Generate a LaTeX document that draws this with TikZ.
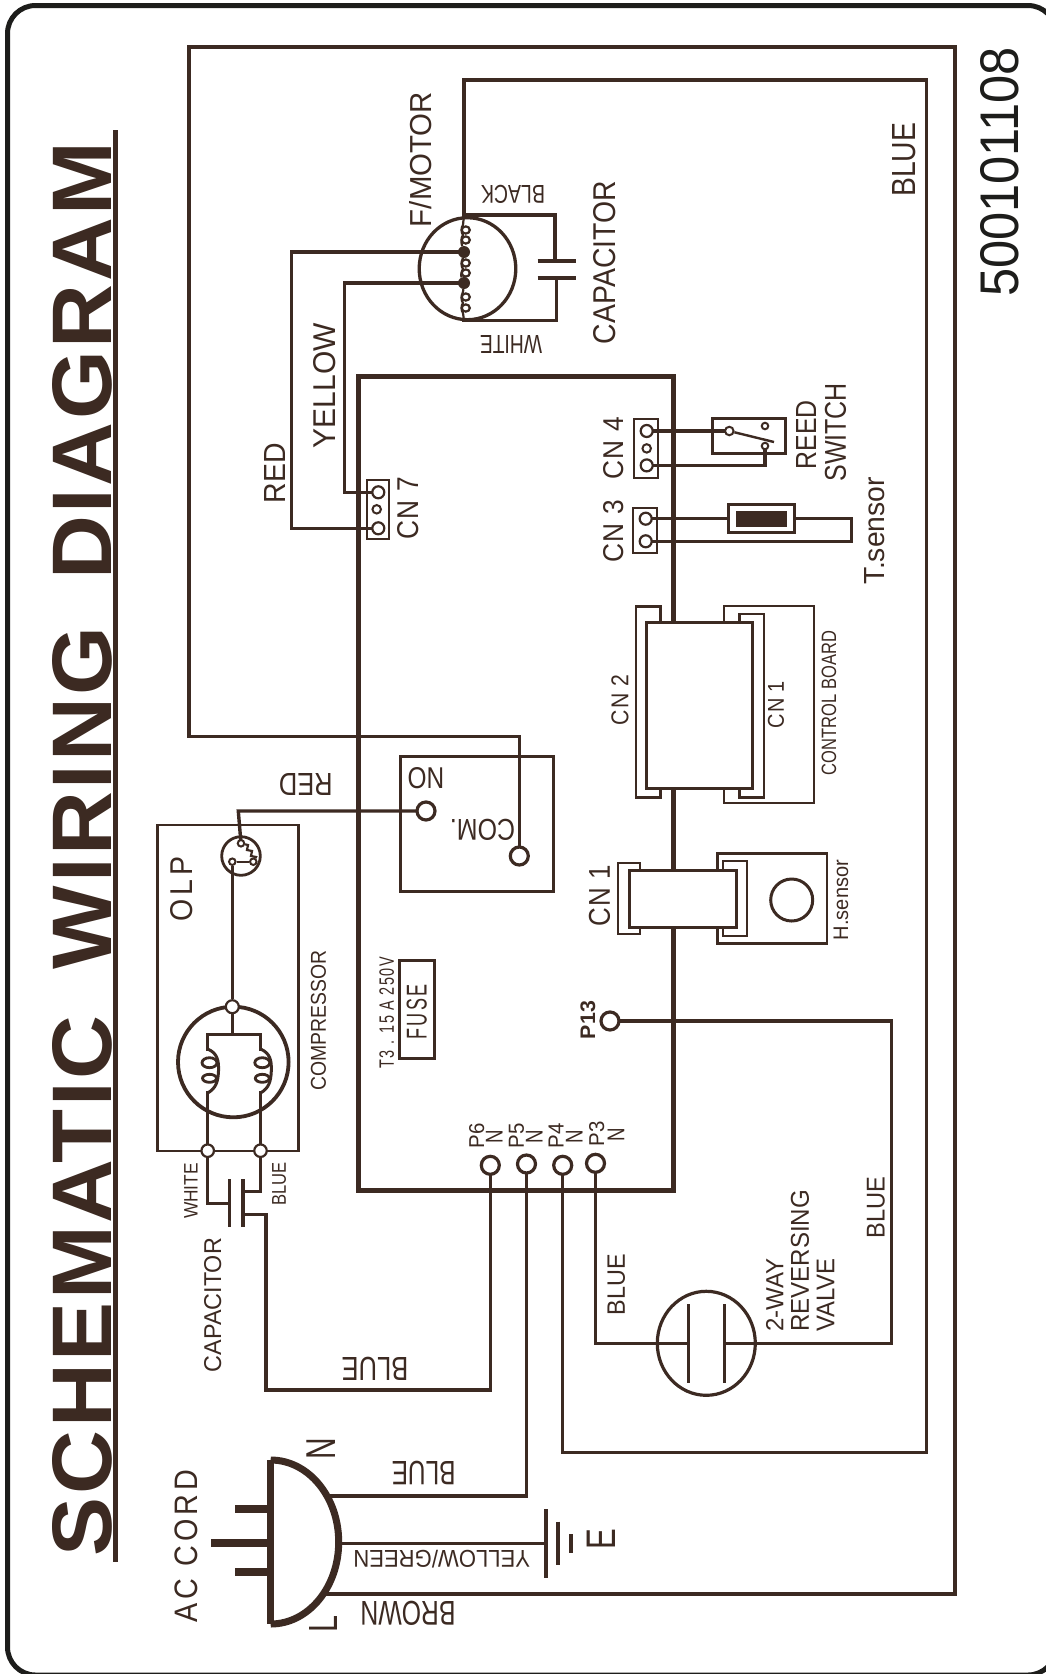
\documentclass[tikz,border=0pt]{standalone}
\usepackage{graphicx}
\usepackage{fontspec}
\setmainfont{Liberation Sans}
\definecolor{ink}{HTML}{3C2A22}
\definecolor{blackink}{HTML}{1D1D1B}
\tikzset{
  wire/.style={draw=ink,line width=3.4pt,line cap=rect,line join=miter},
  thin wire/.style={draw=ink,line width=2.8pt,line join=miter},
  board/.style={draw=ink,line width=5pt,line join=miter},
  plate/.style={draw=ink,line width=3.2pt},
  term/.style={circle,draw=ink,fill=white,line width=3.2pt,inner sep=0pt,minimum size=18pt},
  pin/.style={circle,draw=ink,fill=white,line width=2.2pt,inner sep=0pt,minimum size=12pt},
  minipin/.style={circle,draw=ink,fill=white,line width=2pt,inner sep=0pt,minimum size=8.5pt},
  olppin/.style={circle,draw=ink,fill=white,line width=2pt,inner sep=0pt,minimum size=6.5pt},
  dot/.style={circle,fill=ink,inner sep=0pt,minimum size=12pt},
  lbl/.style={inner sep=0pt,outer sep=0pt,text=ink},
}
\newcommand\lab[7]{\node[lbl,rotate=#4] (#1) at (#2,#3) {\resizebox{#5pt}{#6pt}{#7}};}
\newcommand\lsp[2]{\addfontfeature{LetterSpace=#1}#2}
\begin{document}
\begin{tikzpicture}[x=1pt,y=-1pt]
\useasboundingbox (0,0) rectangle (1046,1674);
\fill[white] (0,0) rectangle (1046,1674);
\draw[blackink,line width=5pt,rounded corners=28pt] (7.5,5.5) rectangle (1056,1675);

% title
\node[lbl,rotate=90] (title) at (82,848.7) {\resizebox{1414pt}{59pt}{\bfseries\addfontfeature{LetterSpace=3}SCHEMATIC\hspace{.22em} WIRING\hspace{.22em} DIAGRAM}};
\coordinate (ulA) at (115,130);
\coordinate (ulB) at (115,1562);
\draw[ink,line width=5pt] (ulA) -- (ulB);
\node[lbl,rotate=90,text=blackink] (code) at (1000,172) {\resizebox{249.4pt}{38pt}{500101108}};

% board
\draw[board] (358,376.7) rectangle (673,1190.7);

% terminals
\node[term] (on) at (426,811) {};
\node[term] (com) at (519.3,856) {};
\node[term] (p13) at (610,1021) {};
\node[term] (p6) at (490.3,1165.3) {};
\node[term] (p5) at (526.5,1164) {};
\node[term] (p4) at (562.7,1165.3) {};
\node[term] (p3) at (595.5,1163.3) {};

% CN boxes with pins
\draw[ink,line width=2pt] (366.7,480) rectangle (389,539);
\node[pin] (cn7a) at (378.3,492.3) {};
\node[minipin] (cn7s) at (376.7,509.3) {};
\node[pin] (cn7c) at (378.3,528.3) {};
\draw[ink,line width=2pt] (634.3,418.8) rectangle (657.7,478.4);
\node[pin] (cn4a) at (646.7,431) {};
\node[minipin] (cn4s) at (646.7,448.4) {};
\node[pin] (cn4c) at (646.7,465.4) {};
\draw[ink,line width=2pt] (633,507.6) rectangle (657,552.8);
\node[pin] (cn3a) at (645.7,518.7) {};
\node[pin] (cn3b) at (645.7,541.3) {};

% fan motor
\draw[ink,line width=3.3pt] (467.5,268.7) ellipse [x radius=48.3,y radius=51];
\node[dot] (mred) at (464,252) {};
\node[dot] (myel) at (464,283) {};
\coordinate (mtop) at (464,215);
\coordinate (mbot) at (464,320.7);
\draw[ink,line width=2.2pt] (mtop) -- (463,225) .. controls (461,228) and (461,232) .. (463,235) .. controls (461,238) and (461,242) .. (mred);
\draw[ink,line width=2.2pt] (mred) -- (463,258) .. controls (461,262) and (461,266) .. (463,269) .. controls (461,272) and (461,276) .. (myel);
\draw[ink,line width=2.2pt] (myel) -- (463,292) .. controls (461,296) and (461,300) .. (463,303) .. controls (461,306) and (461,310) .. (463,313) -- (mbot);
\foreach \yy in {230,240,263,273,297,308}{\draw[ink,line width=2.2pt] (465.8,\yy) circle [x radius=4,y radius=3.6];}

\coordinate (r1) at (291.7,252);
\coordinate (r2) at (291.7,528.3);
\draw[wire] (mred) -- (r1) -- (r2) -- (cn7c);
\coordinate (y1) at (344.3,283);
\coordinate (y2) at (344.3,492.3);
\draw[wire] (myel) -- (y1) -- (y2) -- (cn7a);
\coordinate (mc1) at (555,215);
\coordinate (mc2) at (555,261);
\coordinate (mc3) at (556.7,278);
\coordinate (mc4) at (556.7,320.7);
\draw[wire] (mtop) -- (mc1) -- (mc2);
\draw[wire] (mc3) -- (mc4) -- (mbot);
\draw[plate] (537.7,261) -- (575.7,261);
\draw[plate] (537.7,278) -- (575.7,278);

% reed switch
\draw[ink,line width=3pt] (712.3,418) rectangle (785.7,453.6);
\node[minipin] (rc1) at (729.3,431) {};
\node[olppin] (rc2) at (765,426) {};
\node[olppin] (rc3) at (765,446) {};
\coordinate (reedTip) at (774,442);
\draw[wire] (cn4a) -- (rc1);
\draw[wire] (cn4c) -| (rc3);
\draw[ink,line width=2.4pt] (rc1) -- (reedTip);

% T sensor
\coordinate (ts1) at (851.7,518.7);
\coordinate (ts2) at (851.7,541.3);
\draw[wire] (cn3a) -- (ts1) -- (ts2) -- (cn3b);
\draw[ink,fill=white,line width=3pt] (728.3,504) rectangle (794,532.8);
\fill[ink] (736,510.6) rectangle (786.7,527);

% control board + CN2/CN1
\draw[thin wire] (724,606) rectangle (814,803);
\draw[thin wire,fill=white] (636,606.8) rectangle (660.7,797.3);
\draw[thin wire,fill=white] (739.3,614) rectangle (764,797.3);
\draw[ink,line width=3pt,fill=white] (646.7,622) rectangle (752.7,788);
% H sensor + CN1
\draw[thin wire] (717.7,853.5) rectangle (827,943.5);
\draw[ink,line width=3pt] (791.7,900) circle [radius=21];
\draw[thin wire,fill=white] (618,863) rectangle (640,934);
\draw[thin wire,fill=white] (723,861) rectangle (747,936);
\draw[ink,line width=3pt,fill=white] (629,870) rectangle (736,927);

% relay box, wires
\draw[ink,line width=3pt] (400,756) rectangle (553.3,891.7);

% outer wire: plug L to COM
\coordinate (plugL) at (325,1594);
\coordinate (w1) at (955,1594);
\coordinate (w2) at (955,47);
\coordinate (w3) at (189,47);
\coordinate (w4) at (189,736.5);
\coordinate (w5) at (519.3,736.5);
\draw[wire,line width=3.6pt] (plugL) -- (w1) -- (w2) -- (w3) -- (w4) -- (w5) -- (com);

% p4 to motor top
\coordinate (v1) at (562.7,1452.5);
\coordinate (v2) at (926.7,1452.5);
\coordinate (v3) at (926.7,80);
\coordinate (v4) at (464,80);
\draw[wire] (p4) -- (v1) -- (v2) -- (v3) -- (v4) -- (mtop);

% valve
\draw[ink,line width=3.2pt] (706.3,1343.3) ellipse [x radius=49,y radius=52];
\coordinate (valveL) at (688.3,1343.3);
\coordinate (valveR) at (724.3,1343.3);
\draw[plate] (688.3,1304) -- (688.3,1382.7);
\draw[plate] (724.3,1304) -- (724.3,1382.7);
\draw[wire] (p3) |- (valveL);
\coordinate (p13a) at (891.3,1021);
\coordinate (p13b) at (891.3,1343.3);
\draw[wire] (p13) -- (p13a) -- (p13b) -- (valveR);

% relay ON wire + OLP
\draw[ink,line width=2.4pt] (157.3,825) rectangle (298.3,1150.7);
\draw[ink,line width=2.8pt,fill=white] (241,856) circle [radius=19.3];
\node[olppin] (olpc) at (241,843.3) {};
\node[olppin] (olpb) at (253.3,861.7) {};
\node[olppin] (olpa) at (232.3,861.7) {};
\coordinate (onC) at (238.3,811);
\draw[wire] (on) -- (onC) -- (olpc);
\draw[ink,line width=2.4pt] (olpa) -- (olpb);
\draw[ink,line width=2.2pt] (olpc) -- (248,845) -- (247,850) -- (252,851) -- (251,856) -- (256,857) -- (olpb);

% compressor
\draw[ink,line width=3.8pt] (233.3,1062) circle [radius=55.3];
\node[pin,minimum size=13pt] (compT) at (232.3,1006.7) {};
\node[pin,minimum size=12.5pt] (compL) at (207.7,1150.7) {};
\node[pin,minimum size=12.5pt] (compR) at (260.5,1150.7) {};
\draw[thin wire] (olpa) -- (compT);
\coordinate (compBus) at (232.3,1034.7);
\coordinate (busL) at (207.7,1034.7);
\coordinate (busR) at (260.5,1034.7);
\draw[wire] (compT) -- (compBus);
\draw[wire] (busL) -- (busR);
\foreach \dx/\nm in {0/cL,52.8/cR}{
  \begin{scope}[shift={(\dx,0)}]
    \coordinate (\nm a) at (207.7,1049);
    \coordinate (\nm b) at (207.7,1093);
    \draw[ink,line width=3pt] (\nm a) .. controls (217,1053) and (219,1060) .. (218.5,1071) .. controls (218,1082) and (216,1088) .. (\nm b);
    \draw[ink,line width=2.8pt] (209.5,1062.7) ellipse [x radius=7.5,y radius=5];
    \draw[ink,line width=2.8pt] (209.5,1078.3) ellipse [x radius=7,y radius=4];
  \end{scope}
}
\draw[wire] (busL) -- (cLa);
\draw[wire] (busR) -- (cRa);
\draw[wire] (cLb) -- (compL);
\draw[wire] (cRb) -- (compR);

% compressor capacitor
\coordinate (capA) at (229.3,1203.3);
\coordinate (capB) at (243,1191.7);
\coordinate (capC) at (243,1214.3);
\coordinate (capD) at (266,1214.3);
\coordinate (capE) at (266,1390);
\draw[wire] (compL) |- (capA);
\draw[wire] (compR) |- (capB);
\draw[plate] (229.3,1179.3) -- (229.3,1227.3);
\draw[plate] (243,1179.3) -- (243,1227.3);
\draw[wire] (p6) |- (capE) -- (capD) -- (capC);

% fuse
\draw[ink,line width=2.7pt] (399.3,960.7) rectangle (434.3,1058.3);

% plug
\draw[ink,line width=7.5pt] (270.7,1460) -- (270.7,1624);
\draw[ink,line width=7pt] (270.7,1460) .. controls (308.3,1460) and (338.7,1496.7) .. (338.7,1542) .. controls (338.7,1587.3) and (308.3,1624) .. (270.7,1624);
\draw[ink,line width=8pt] (235,1509.3) -- (268,1509.3);
\draw[ink,line width=8pt] (211,1543.3) -- (268,1543.3);
\draw[ink,line width=8pt] (235,1572.3) -- (268,1572.3);
\coordinate (plugN) at (330,1496);
\draw[wire] (p5) |- (plugN);
\coordinate (plugE) at (340,1543.3);
\coordinate (gnd) at (545.7,1543.3);
\draw[wire] (plugE) -- (gnd);
\draw[ink,line width=4pt] (545.7,1509.3) -- (545.7,1577.7);
\draw[ink,line width=4pt] (558,1521.7) -- (558,1565);
\draw[ink,line width=4pt] (570.7,1534.3) -- (570.7,1553.3);

% labels
\lab{tFmotor}{421}{159.5}{90}{135}{22}{F/MOTOR}
\lab{tBlack}{513}{194}{180}{64}{18}{BLACK}
\lab{tWhite}{511}{344}{180}{62}{18}{WHITE}
\lab{tCapM}{605}{262.5}{90}{163}{22}{CAPACITOR}
\lab{tRed}{274.5}{473}{90}{60}{21}{RED}
\lab{tYellow}{325}{385.5}{90}{125}{22}{YELLOW}
\lab{tCNseven}{408}{508}{90}{62}{21}{\lsp{4}{CN 7}}
\lab{tCNfour}{614}{448}{90}{62}{20}{\lsp{4}{CN 4}}
\lab{tReed}{806}{434.7}{90}{69}{20}{REED}
\lab{tSwitch}{835.5}{432.3}{90}{98.7}{21}{SWITCH}
\lab{tCNthree}{613.5}{531}{90}{62}{20}{\lsp{4}{CN 3}}
\lab{tTsensor}{875}{530.6}{90}{107}{20}{T.sensor}
\lab{tCNtwo}{620}{700}{90}{50}{17}{\lsp{4}{CN 2}}
\lab{tCNoneA}{776}{704.5}{90}{47}{16}{\lsp{4}{CN 1}}
\lab{tControl}{829}{703}{90}{144}{14.5}{CONTROL BOARD}
\lab{tCNoneB}{599.5}{895.5}{90}{61}{21}{\lsp{4}{CN 1}}
\lab{tHsensor}{841}{900}{90}{80}{14.5}{H.sensor}
\lab{tRedB}{305.8}{784}{180}{53.7}{22}{RED}
\lab{tOn}{426}{778.5}{0}{36.6}{21}{ON}
\lab{tCom}{482.5}{830}{180}{65}{21}{COM.}
\lab{tOlp}{181.7}{889}{90}{65}{22}{\lsp{14}{OLP}}
\lab{tCompressor}{318.5}{1020.7}{90}{140}{15}{COMPRESSOR}
\lab{tFuseV}{386.7}{1012.8}{90}{111}{14.5}{\lsp{10}{T3 . 15 A 250V}}
\lab{tFuse}{416.7}{1012}{90}{55.7}{20}{\lsp{14}{FUSE}}
\lab{tPsix}{476.7}{1136}{90}{25}{15}{P6}
\lab{tNsix}{494.3}{1136.7}{90}{13.5}{16.7}{N}
\lab{tPfive}{516.5}{1136}{90}{25}{15}{P5}
\lab{tNfive}{534.3}{1137}{90}{13.5}{16.7}{N}
\lab{tPfour}{556}{1136}{90}{25}{15}{P4}
\lab{tNfour}{574.3}{1137}{90}{13.5}{16.7}{N}
\lab{tPthree}{596.7}{1134}{90}{25}{15}{P3}
\lab{tNthree}{616}{1135}{90}{13.5}{16.7}{N}
\lab{tPthirteen}{588}{1020}{90}{38}{14.7}{\bfseries P13}
\lab{tBlueA}{616.3}{1284.5}{90}{61}{17.3}{BLUE}
\lab{tTwoway}{774.7}{1295}{90}{73.4}{17.3}{2-WAY}
\lab{tReversing}{800}{1260.8}{90}{141.7}{18}{REVERSING}
\lab{tValve}{825.5}{1295}{90}{73.4}{17.6}{VALVE}
\lab{tBlueB}{876}{1207.5}{90}{61.7}{17.7}{BLUE}
\lab{tBlueC}{904.5}{159.7}{90}{74}{23}{BLUE}
\lab{tCapC}{212.7}{1305}{90}{134}{17}{CAPACITOR}
\lab{tBlueD}{375}{1369}{180}{66.6}{23}{BLUE}
\lab{tN}{321.3}{1448.5}{90}{21.6}{28.7}{N}
\lab{tL}{323.3}{1624}{90}{17}{28}{L}
\lab{tE}{601.5}{1539.6}{90}{20.7}{28.4}{E}
\lab{tYG}{441.7}{1559.5}{180}{176.7}{17.6}{YELLOW/GREEN}
\lab{tBrown}{408}{1613.7}{180}{95}{24}{BROWN}
\lab{tBlueE}{423.7}{1472.7}{180}{64}{23.3}{BLUE}
\lab{tAC}{186.3}{1546.3}{90}{152.7}{22.7}{\lsp{14}{AC CORD}}
\lab{tWhiteC}{191}{1191}{90}{55.7}{13.4}{WHITE}
\lab{tBlueC2}{279}{1184.3}{90}{43.3}{13.7}{BLUE}
\end{tikzpicture}
\end{document}
